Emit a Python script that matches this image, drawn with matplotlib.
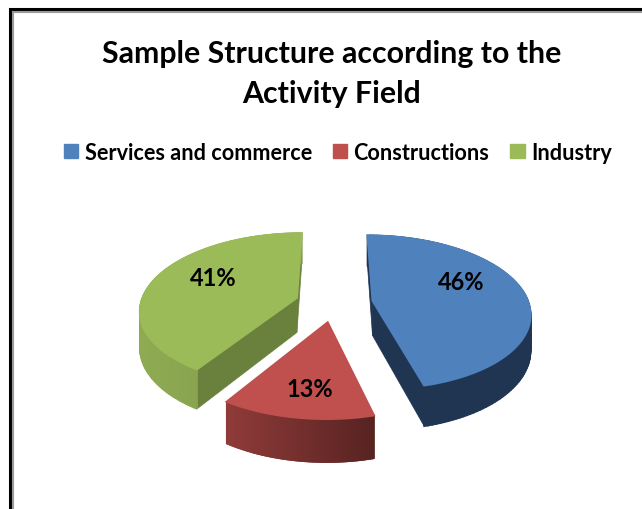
import matplotlib
matplotlib.use('Agg')
import matplotlib.pyplot as plt
from matplotlib.patches import Patch
import numpy as np

title = 'Sample Structure according to the\nActivity Field'
categories = ['Services and commerce', 'Constructions', 'Industry']
values = [46, 13, 41]
top_colors = ['#4f81bd', '#c0504d', '#9bbb59']
# rim colour, left end -> right end
rim_colors = [('#1f3552', '#1f3552'), ('#8f3b39', '#572321'), ('#8fab52', '#7d9849')]
side_colors = ['#1f3552', '#6b2b29', '#6a803d']
label_pos = [(461, 283), (310, 390), (213, 279)]

# fake 3d pie, everything in pixels
cx, cy = 334, 304
R, Ry = 156, 75.6
persp = 0.15
explode = 0.25
depth = 35


def project(wx, wy, z=0):
    f = 1 / (1 + persp * wy)
    return cx + R * wx * f, cy - Ry * wy * f + depth * z * f


def mix(c1, c2, t):
    a = np.array(matplotlib.colors.to_rgb(c1))
    b = np.array(matplotlib.colors.to_rgb(c2))
    return tuple(a + (b - a) * t)


fig = plt.figure(figsize=(6.42, 5.10), dpi=100)
ax = fig.add_axes([0, 0, 1, 1])
ax.set_xlim(0, 642)
ax.set_ylim(510, 0)
ax.axis('off')

# chart border
ax.plot([10, 10, 642], [510, 10, 10], color='black', lw=2.2, solid_joinstyle='miter')
ax.plot([13, 13, 642], [510, 13, 13], color='#9a9a9a', lw=1.5, solid_joinstyle='miter')

total = sum(values)
start = 0
for i, v in enumerate(values):
    sweep = v / total * 2 * np.pi
    th = np.linspace(start, start + sweep, 120)
    mid = start + sweep / 2
    ox, oy = explode * np.sin(mid), explode * np.cos(mid)
    rx = ox + np.sin(th)
    ry = oy + np.cos(th)

    # cut faces
    for a in (th[0], th[-1]):
        ex, ey = ox + np.sin(a), oy + np.cos(a)
        p = [project(ox, oy), project(ex, ey), project(ex, ey, 1), project(ox, oy, 1)]
        ax.fill(*zip(*p), color=side_colors[i], lw=0.5, zorder=2 + i)

    # outer rim, small quads for the gradient
    xs = [project(a, b)[0] for a, b in zip(rx, ry)]
    xmin, xmax = min(xs), max(xs)
    for k in range(len(th) - 1):
        p = [project(rx[k], ry[k]), project(rx[k + 1], ry[k + 1]),
             project(rx[k + 1], ry[k + 1], 1), project(rx[k], ry[k], 1)]
        t = (xs[k] - xmin) / (xmax - xmin)
        ax.fill(*zip(*p), color=mix(rim_colors[i][0], rim_colors[i][1], t), lw=1.2, zorder=2 + i)

    top = [project(ox, oy)] + [project(a, b) for a, b in zip(rx, ry)]
    ax.fill(*zip(*top), facecolor=top_colors[i], edgecolor=top_colors[i], lw=1.5, zorder=6)
    ax.text(label_pos[i][0], label_pos[i][1], '%d%%' % v, ha='center', va='center',
            fontsize=17, fontweight='bold', family='Lato', color='black', zorder=7)
    start += sweep

ax.text(332, 74, title, ha='center', va='center', fontsize=21.8, fontweight='bold',
        family='Lato', color='black', linespacing=1.5)

handles = [Patch(color=c) for c in top_colors]
ax.legend(handles, categories, ncol=3, loc='center', bbox_to_anchor=(338 / 642, 1 - 153 / 510),
          frameon=False, handlelength=0.65, handleheight=0.65, handletextpad=0.3,
          columnspacing=0.97, prop={'family': 'Lato', 'size': 15.6, 'weight': 'bold'})

fig.savefig('out.png', dpi=100)
